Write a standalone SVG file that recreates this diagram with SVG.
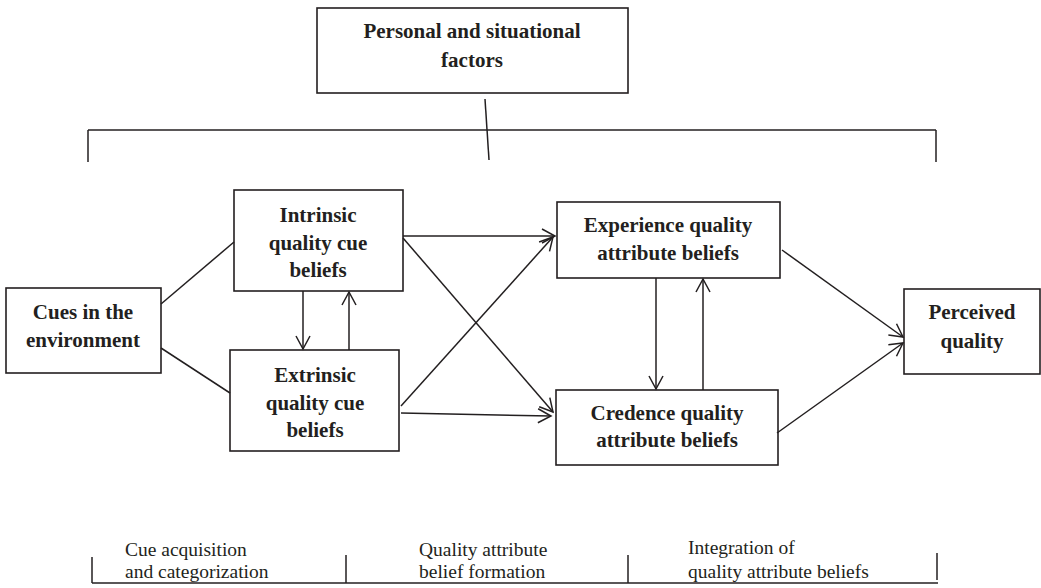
<svg xmlns="http://www.w3.org/2000/svg" width="1041" height="588" viewBox="0 0 1041 588">
<style>
.box{fill:#fff;stroke:#231f20;stroke-width:1.6}
.t{font-family:"Liberation Serif",serif;font-weight:bold;font-size:21px;fill:#231f20;text-anchor:middle}
.b{font-family:"Liberation Serif",serif;font-size:19.5px;fill:#231f20}
.ln{stroke:#231f20;stroke-width:1.5;fill:none}
</style>
<defs>
<marker id="ah" markerWidth="16" markerHeight="16" refX="14" refY="8" orient="auto" markerUnits="userSpaceOnUse">
<path d="M1,1 L14,8 L1,15" fill="none" stroke="#231f20" stroke-width="1.5"/>
</marker>
</defs>
<rect width="1041" height="588" fill="#fff"/>
<g id="personal"><rect class="box" x="317" y="8" width="311" height="85"/><text class="t" x="472" y="38">Personal and situational</text><text class="t" x="472" y="67">factors</text></g>
<g id="cues"><rect class="box" x="6" y="288" width="155" height="85"/><text class="t" x="83" y="319">Cues in the</text><text class="t" x="83" y="347">environment</text></g>
<g id="intrinsic"><rect class="box" x="234" y="190" width="169" height="101"/><text class="t" x="318" y="222">Intrinsic</text><text class="t" x="318" y="250">quality cue</text><text class="t" x="318" y="277">beliefs</text></g>
<g id="extrinsic"><rect class="box" x="230" y="350" width="169" height="101"/><text class="t" x="315" y="382">Extrinsic</text><text class="t" x="315" y="410">quality cue</text><text class="t" x="315" y="437">beliefs</text></g>
<g id="experience"><rect class="box" x="557" y="202" width="223" height="76"/><text class="t" x="668" y="232">Experience quality</text><text class="t" x="668" y="260">attribute beliefs</text></g>
<g id="credence"><rect class="box" x="556" y="390" width="222" height="75"/><text class="t" x="667" y="420">Credence quality</text><text class="t" x="667" y="447">attribute beliefs</text></g>
<g id="perceived"><rect class="box" x="904" y="289" width="136" height="85"/><text class="t" x="972" y="319">Perceived</text><text class="t" x="972" y="348">quality</text></g>
<g id="connectors">
<line class="ln" x1="88" y1="130" x2="936" y2="130"/>
<line class="ln" x1="88" y1="130" x2="88" y2="162"/>
<line class="ln" x1="936" y1="130" x2="936" y2="162"/>
<line class="ln" x1="485" y1="99" x2="489" y2="160"/>
<line class="ln" x1="161" y1="304" x2="234" y2="242"/>
<line class="ln" x1="161" y1="348" x2="230" y2="393"/>
<line class="ln" x1="303" y1="291" x2="303" y2="349" marker-end="url(#ah)"/>
<line class="ln" x1="349" y1="350" x2="349" y2="292" marker-end="url(#ah)"/>
<line class="ln" x1="403" y1="236" x2="555" y2="236" marker-end="url(#ah)"/>
<line class="ln" x1="403" y1="238" x2="553" y2="412" marker-end="url(#ah)"/>
<line class="ln" x1="401" y1="406" x2="553" y2="237" marker-end="url(#ah)"/>
<line class="ln" x1="401" y1="413" x2="551" y2="416" marker-end="url(#ah)"/>
<line class="ln" x1="656" y1="278" x2="656" y2="389" marker-end="url(#ah)"/>
<line class="ln" x1="703" y1="390" x2="703" y2="279" marker-end="url(#ah)"/>
<line class="ln" x1="782" y1="250" x2="903" y2="337" marker-end="url(#ah)"/>
<line class="ln" x1="777" y1="433" x2="903" y2="343" marker-end="url(#ah)"/>
<line class="ln" x1="92" y1="583" x2="938" y2="583"/>
<line class="ln" x1="92" y1="557" x2="92" y2="583"/>
<line class="ln" x1="346" y1="555" x2="346" y2="583"/>
<line class="ln" x1="628" y1="555" x2="628" y2="583"/>
<line class="ln" x1="937" y1="553" x2="937" y2="580"/>
</g>
<g id="stages">
<text class="b" x="125" y="556">Cue acquisition</text>
<text class="b" x="125" y="578">and categorization</text>
<text class="b" x="419" y="556">Quality attribute</text>
<text class="b" x="419" y="578">belief formation</text>
<text class="b" x="688" y="554">Integration of</text>
<text class="b" x="688" y="578">quality attribute beliefs</text>
</g>
</svg>
